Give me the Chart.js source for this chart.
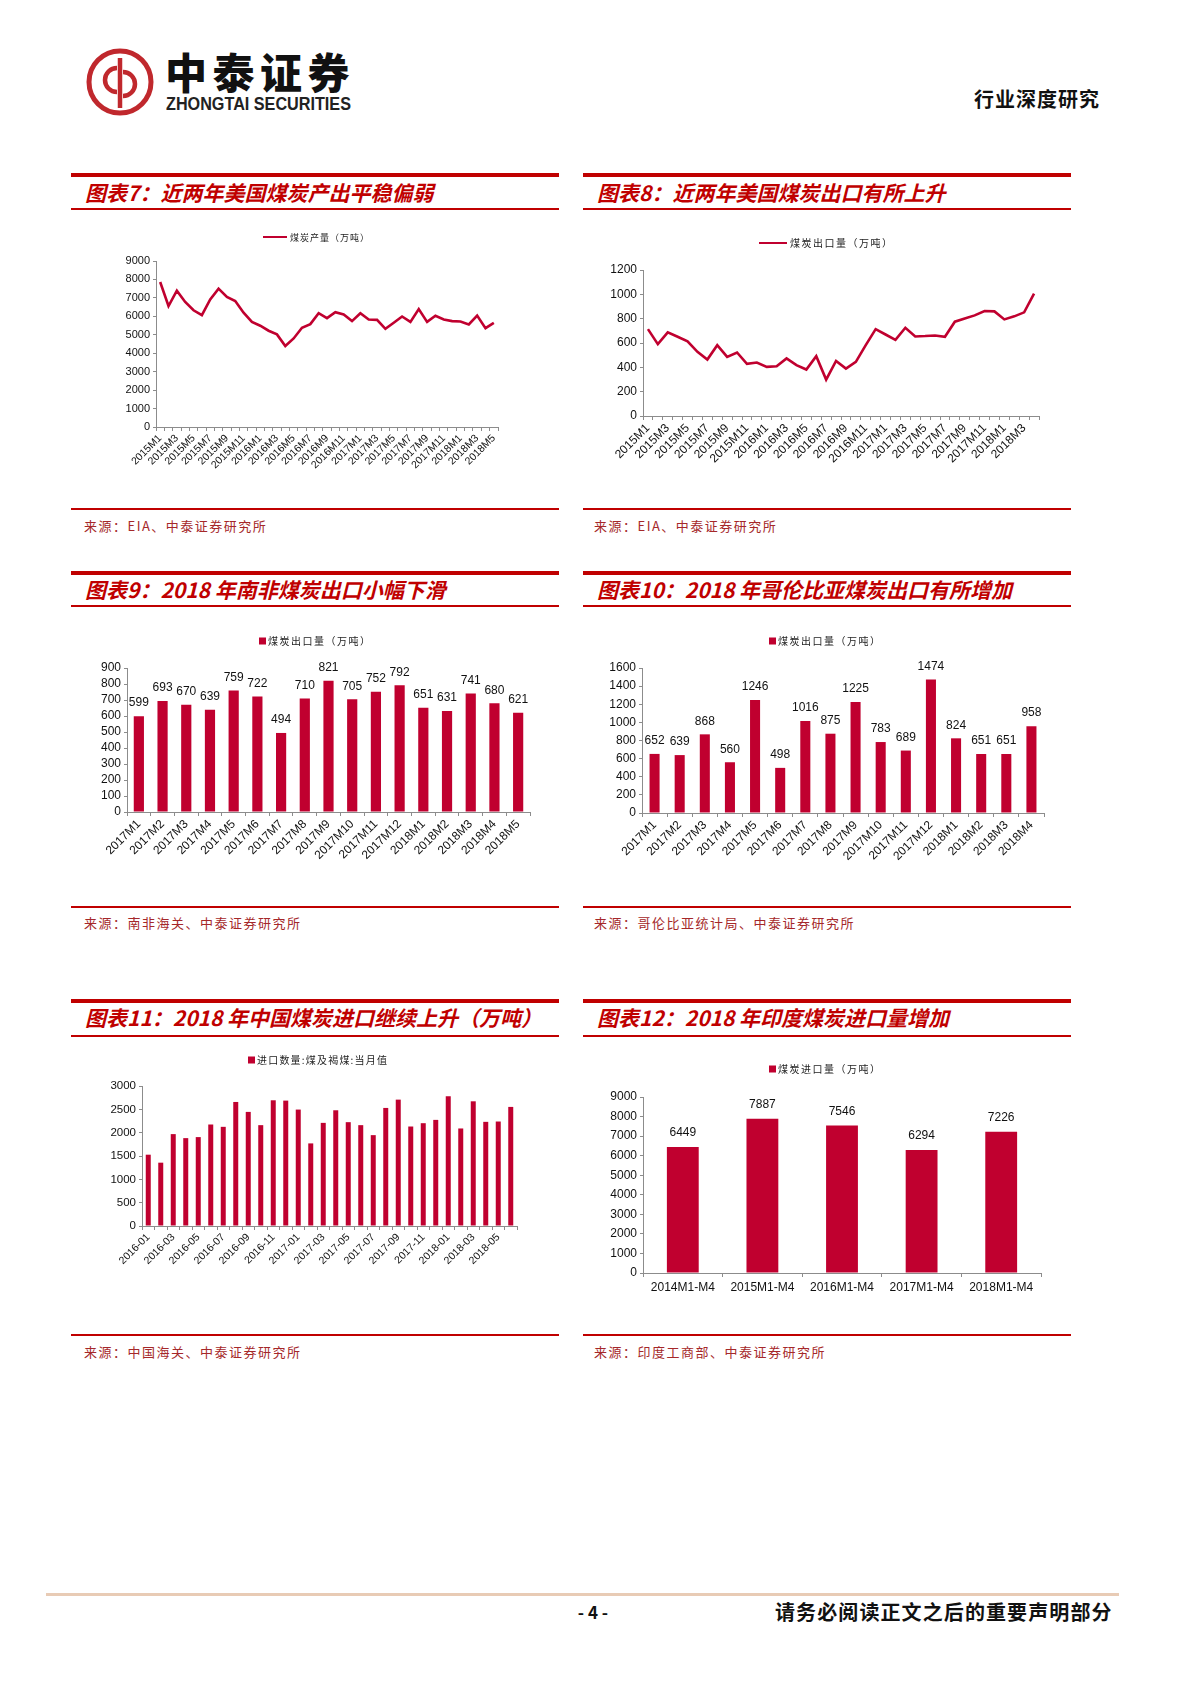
<!DOCTYPE html>
<html><head><meta charset="utf-8">
<script src="https://cdn.jsdelivr.net/npm/chart.js@4.4.1/dist/chart.umd.min.js"></script>
<style>
body{margin:0;width:1190px;height:1683px;background:#fff;position:relative;font-family:"Noto Sans CJK SC",sans-serif;overflow:hidden}
.thick{position:absolute;height:4px;background:#c00000}
.thin{position:absolute;height:1.5px;background:#c00000}
.title{position:absolute;font-weight:bold;font-style:italic;color:#c00000;font-size:21px;white-space:nowrap;line-height:21px}
.src{position:absolute;font-size:13px;letter-spacing:1.5px;color:#a5282a;white-space:nowrap;line-height:13px}
.box{position:absolute}
</style></head>
<body>
<!-- header -->
<svg style="position:absolute;left:84px;top:46px" width="72" height="72" viewBox="0 0 72 72">
  <circle cx="36" cy="36" r="31" fill="none" stroke="#c0282d" stroke-width="5"/>
  <path d="M33 22 A12 12 0 1 0 33 46" fill="none" stroke="#c0282d" stroke-width="4.5"/>
  <path d="M39 26 A12 12 0 1 1 39 50" fill="none" stroke="#c0282d" stroke-width="4.5"/>
  <line x1="36" y1="12" x2="36" y2="62" stroke="#c0282d" stroke-width="4.5"/>
</svg>
<div style="position:absolute;left:165px;top:48px;font-size:42px;font-weight:900;letter-spacing:5.5px;line-height:46px;color:#111">中泰证券</div>
<div style="position:absolute;left:166px;top:95px;font-family:'Liberation Sans',sans-serif;font-weight:bold;font-size:18.5px;line-height:18px;color:#222;transform:scaleX(0.875);transform-origin:0 0;white-space:nowrap">ZHONGTAI SECURITIES</div>
<div style="position:absolute;left:974px;top:88px;font-size:20px;font-weight:bold;letter-spacing:1px;line-height:22px;color:#111">行业深度研究</div>

<!-- section row 1 -->
<div class="thick" style="left:71px;top:173px;width:488px"></div>
<div class="title" style="left:85px;top:182px">图表7：近两年美国煤炭产出平稳偏弱</div>
<div class="thin" style="left:71px;top:208px;width:488px"></div>
<div class="thick" style="left:583px;top:173px;width:488px"></div>
<div class="title" style="left:597px;top:182px">图表8：近两年美国煤炭出口有所上升</div>
<div class="thin" style="left:583px;top:208px;width:488px"></div>
<div class="thin" style="left:71px;top:508px;width:488px"></div>
<div class="src" style="left:84px;top:519px">来源：EIA、中泰证券研究所</div>
<div class="thin" style="left:583px;top:508px;width:488px"></div>
<div class="src" style="left:594px;top:519px">来源：EIA、中泰证券研究所</div>

<!-- section row 2 -->
<div class="thick" style="left:71px;top:571px;width:488px"></div>
<div class="title" style="left:85px;top:579px">图表9：2018 年南非煤炭出口小幅下滑</div>
<div class="thin" style="left:71px;top:605px;width:488px"></div>
<div class="thick" style="left:583px;top:571px;width:488px"></div>
<div class="title" style="left:597px;top:579px">图表10：2018 年哥伦比亚煤炭出口有所增加</div>
<div class="thin" style="left:583px;top:605px;width:488px"></div>
<div class="thin" style="left:71px;top:906px;width:488px"></div>
<div class="src" style="left:84px;top:916px">来源：南非海关、中泰证券研究所</div>
<div class="thin" style="left:583px;top:906px;width:488px"></div>
<div class="src" style="left:594px;top:916px">来源：哥伦比亚统计局、中泰证券研究所</div>

<!-- section row 3 -->
<div class="thick" style="left:71px;top:999px;width:488px"></div>
<div class="title" style="left:85px;top:1007px">图表11：2018 年中国煤炭进口继续上升（万吨）</div>
<div class="thin" style="left:71px;top:1035px;width:488px"></div>
<div class="thick" style="left:583px;top:999px;width:488px"></div>
<div class="title" style="left:597px;top:1007px">图表12：2018 年印度煤炭进口量增加</div>
<div class="thin" style="left:583px;top:1035px;width:488px"></div>
<div class="thin" style="left:71px;top:1334px;width:488px"></div>
<div class="src" style="left:84px;top:1345px">来源：中国海关、中泰证券研究所</div>
<div class="thin" style="left:583px;top:1334px;width:488px"></div>
<div class="src" style="left:594px;top:1345px">来源：印度工商部、中泰证券研究所</div>

<!-- footer -->
<div style="position:absolute;left:46px;top:1593px;width:1073px;height:3px;background:#e8cbb5"></div>
<div style="position:absolute;left:573px;top:1602px;width:40px;text-align:center;font-size:17px;font-weight:bold;line-height:20px;color:#111">- 4 -</div>
<div style="position:absolute;left:775px;top:1601px;font-size:20px;font-weight:bold;letter-spacing:1.1px;line-height:22px;color:#111;white-space:nowrap">请务必阅读正文之后的重要声明部分</div>

<div id="c7" class="box"></div>
<div id="c8" class="box"></div>
<div id="c9" class="box"></div>
<div id="c10" class="box"></div>
<div id="c11" class="box"></div>
<div id="c12" class="box"></div>

<script>
// ---------------- DATA ----------------
const usProdMonths = ['2015M1','2015M2','2015M3','2015M4','2015M5','2015M6','2015M7','2015M8','2015M9','2015M10','2015M11','2015M12',
  '2016M1','2016M2','2016M3','2016M4','2016M5','2016M6','2016M7','2016M8','2016M9','2016M10','2016M11','2016M12',
  '2017M1','2017M2','2017M3','2017M4','2017M5','2017M6','2017M7','2017M8','2017M9','2017M10','2017M11','2017M12',
  '2018M1','2018M2','2018M3','2018M4','2018M5'];
const usProd = [7860,6560,7390,6780,6330,6060,6920,7500,7050,6830,6200,5700,
  5490,5220,5020,4390,4800,5380,5580,6170,5900,6220,6100,5740,
  6170,5830,5810,5320,5650,5990,5700,6390,5700,6030,5830,5740,
  5720,5560,6040,5360,5650];
const usProdLabel = '煤炭产量（万吨）';

const usExportMonths = ['2015M1','2015M2','2015M3','2015M4','2015M5','2015M6','2015M7','2015M8','2015M9','2015M10','2015M11','2015M12',
  '2016M1','2016M2','2016M3','2016M4','2016M5','2016M6','2016M7','2016M8','2016M9','2016M10','2016M11','2016M12',
  '2017M1','2017M2','2017M3','2017M4','2017M5','2017M6','2017M7','2017M8','2017M9','2017M10','2017M11','2017M12',
  '2018M1','2018M2','2018M3','2018M4'];
const usExport = [714,591,687,651,613,527,464,582,486,522,429,440,
  404,409,473,418,382,492,299,453,390,445,582,714,
  670,626,725,654,657,662,651,775,802,827,863,860,
  794,819,852,1005];
const usExportLabel = '煤炭出口量（万吨）';

const saMonths = ['2017M1','2017M2','2017M3','2017M4','2017M5','2017M6','2017M7','2017M8','2017M9','2017M10','2017M11','2017M12',
  '2018M1','2018M2','2018M3','2018M4','2018M5'];
const saExport = [599,693,670,639,759,722,494,710,821,705,752,792,651,631,741,680,621];
const saLabel = '煤炭出口量（万吨）';

const coMonths = ['2017M1','2017M2','2017M3','2017M4','2017M5','2017M6','2017M7','2017M8','2017M9','2017M10','2017M11','2017M12',
  '2018M1','2018M2','2018M3','2018M4'];
const coExport = [652,639,868,560,1246,498,1016,875,1225,783,689,1474,824,651,651,958];
const coLabel = '煤炭出口量（万吨）';

const cnMonths = ['2016-01','2016-02','2016-03','2016-04','2016-05','2016-06','2016-07','2016-08','2016-09','2016-10','2016-11','2016-12',
  '2017-01','2017-02','2017-03','2017-04','2017-05','2017-06','2017-07','2017-08','2017-09','2017-10','2017-11','2017-12',
  '2018-01','2018-02','2018-03','2018-04','2018-05','2018-06'];
const cnImport = [1528,1357,1969,1883,1905,2175,2125,2658,2445,2161,2694,2687,
  2495,1770,2210,2480,2225,2161,1947,2530,2708,2132,2203,2274,
  2779,2090,2672,2232,2239,2552];
const cnLabel = '进口数量:煤及褐煤:当月值';

const inPeriods = ['2014M1-M4','2015M1-M4','2016M1-M4','2017M1-M4','2018M1-M4'];
const inImport = [6449,7887,7546,6294,7226];
const inLabel = '煤炭进口量（万吨）';

// ---------------- STYLE / PLUGINS ----------------
const RED = '#c0002f';
const AXIS = '#8c8c8c';
const NUMFONT = '"Liberation Sans", Arial, sans-serif';

const fixedLegend = {
  id: 'fixedLegend',
  afterDraw(chart, args, o) {
    const ctx = chart.ctx, ds = chart.data.datasets[0];
    ctx.save();
    if (o.type === 'line') {
      ctx.strokeStyle = ds.borderColor; ctx.lineWidth = 2;
      ctx.beginPath(); ctx.moveTo(o.x, o.y); ctx.lineTo(o.x + o.w, o.y); ctx.stroke();
    } else {
      ctx.fillStyle = ds.backgroundColor; ctx.fillRect(o.x, o.y - o.w / 2, o.w, o.w);
    }
    ctx.font = o.size + 'px "Noto Sans CJK SC"';
    if ('letterSpacing' in ctx) ctx.letterSpacing = o.ls + 'px';
    ctx.fillStyle = '#222'; ctx.textBaseline = 'middle'; ctx.textAlign = 'left';
    ctx.fillText(ds.label, o.x + o.w + o.gap, o.y + 0.5);
    ctx.restore();
  }
};
const barValues = {
  id: 'barValues',
  afterDatasetsDraw(chart, args, o) {
    if (!o || !o.show) return;
    const ctx = chart.ctx, meta = chart.getDatasetMeta(0), d = chart.data.datasets[0].data;
    ctx.save();
    ctx.font = o.size + 'px ' + NUMFONT; ctx.fillStyle = '#111';
    ctx.textAlign = 'center'; ctx.textBaseline = 'bottom';
    meta.data.forEach((el, i) => ctx.fillText(String(d[i]), el.x, el.y - o.offset));
    ctx.restore();
  }
};

function makeChart(cfg) {
  const holder = document.getElementById(cfg.id);
  const b = cfg.box, p = cfg.plot;
  holder.style.left = b.left + 'px'; holder.style.top = b.top + 'px';
  holder.style.width = b.width + 'px'; holder.style.height = b.height + 'px';
  const cv = document.createElement('canvas');
  cv.width = b.width; cv.height = b.height;
  cv.style.width = b.width + 'px'; cv.style.height = b.height + 'px';
  holder.appendChild(cv);
  const isLine = cfg.type === 'line';
  const ds = isLine ? {
    label: cfg.label, data: cfg.data, borderColor: RED, backgroundColor: RED,
    borderWidth: 2.6, pointRadius: 0, tension: 0, fill: false
  } : {
    label: cfg.label, data: cfg.data, backgroundColor: RED, borderWidth: 0,
    barPercentage: 1, categoryPercentage: cfg.barFrac
  };
  return new Chart(cv, {
    type: cfg.type,
    data: { labels: cfg.labels, datasets: [ds] },
    plugins: [fixedLegend, barValues],
    options: {
      responsive: false, animation: false, devicePixelRatio: 1,
      layout: { padding: { top: p.top - b.top, right: b.left + b.width - p.right, left: 0, bottom: 0 } },
      plugins: {
        legend: { display: false }, tooltip: { enabled: false },
        fixedLegend: cfg.legend,
        barValues: cfg.values || { show: false }
      },
      scales: {
        x: {
          offset: true,
          grid: { display: true, offset: true, drawOnChartArea: false, drawTicks: true, tickLength: 4, color: AXIS },
          border: { display: true, color: AXIS, width: 1 },
          ticks: {
            autoSkip: false, maxRotation: cfg.rot, minRotation: cfg.rot, padding: cfg.xPad || 1,
            color: '#111', font: { family: NUMFONT, size: cfg.xFont },
            callback: function (v, i) { return (cfg.skip && i % 2) ? '' : this.getLabelForValue(v); }
          },
          afterFit: s => { s.height = b.top + b.height - p.bottom; }
        },
        y: {
          min: 0, max: cfg.yMax,
          grid: { display: true, drawOnChartArea: false, drawTicks: true, tickLength: 3, color: AXIS },
          border: { display: true, color: AXIS, width: 1 },
          ticks: { stepSize: cfg.yStep, autoSkip: false, padding: 3, color: '#111',
            font: { family: NUMFONT, size: cfg.yFont }, callback: v => String(v) },
          afterFit: s => { s.width = p.left - b.left; }
        }
      }
    }
  });
}

makeChart({ id: 'c7', type: 'line', labels: usProdMonths, data: usProd, label: usProdLabel,
  box: { left: 75, top: 225, width: 440, height: 255 }, plot: { left: 156, top: 261, right: 498, bottom: 427 },
  yMax: 9000, yStep: 1000, yFont: 11, xFont: 10.5, rot: 45, skip: true,
  legend: { type: 'line', x: 188, y: 12, w: 24, gap: 3, size: 9, ls: 1 } });

makeChart({ id: 'c8', type: 'line', labels: usExportMonths, data: usExport, label: usExportLabel,
  box: { left: 590, top: 230, width: 465, height: 250 }, plot: { left: 643, top: 270, right: 1039, bottom: 416 },
  yMax: 1200, yStep: 200, yFont: 12, xFont: 12, rot: 45, skip: true,
  legend: { type: 'line', x: 169, y: 13, w: 28, gap: 3, size: 10, ls: 1.5 } });

makeChart({ id: 'c9', type: 'bar', labels: saMonths, data: saExport, label: saLabel,
  box: { left: 75, top: 625, width: 470, height: 245 }, plot: { left: 127, top: 668, right: 530, bottom: 812 },
  yMax: 900, yStep: 100, yFont: 12, xFont: 12, rot: 45, skip: false, barFrac: 0.43,
  legend: { type: 'box', x: 184, y: 16, w: 7, gap: 2, size: 10, ls: 1.5 },
  values: { show: true, size: 12, offset: 7 } });

makeChart({ id: 'c10', type: 'bar', labels: coMonths, data: coExport, label: coLabel,
  box: { left: 590, top: 625, width: 470, height: 245 }, plot: { left: 642, top: 668, right: 1044, bottom: 813 },
  yMax: 1600, yStep: 200, yFont: 12, xFont: 12, rot: 45, skip: false, barFrac: 0.4,
  legend: { type: 'box', x: 179, y: 16, w: 7, gap: 2, size: 10, ls: 1.5 },
  values: { show: true, size: 12, offset: 7 } });

makeChart({ id: 'c11', type: 'bar', labels: cnMonths, data: cnImport, label: cnLabel,
  box: { left: 75, top: 1045, width: 460, height: 225 }, plot: { left: 142, top: 1086, right: 517, bottom: 1226 },
  yMax: 3000, yStep: 500, yFont: 11.5, xFont: 10.5, rot: 45, skip: true, barFrac: 0.4,
  legend: { type: 'box', x: 173, y: 15, w: 7, gap: 2, size: 10, ls: 1.2 } });

makeChart({ id: 'c12', type: 'bar', labels: inPeriods, data: inImport, label: inLabel,
  box: { left: 590, top: 1050, width: 470, height: 250 }, plot: { left: 643, top: 1097, right: 1041, bottom: 1273 },
  yMax: 9000, yStep: 1000, yFont: 12, xFont: 12, rot: 0, skip: false, barFrac: 0.4, xPad: 3,
  legend: { type: 'box', x: 179, y: 19, w: 7, gap: 2, size: 10, ls: 1.5 },
  values: { show: true, size: 12, offset: 8 } });
</script>
</body></html>
